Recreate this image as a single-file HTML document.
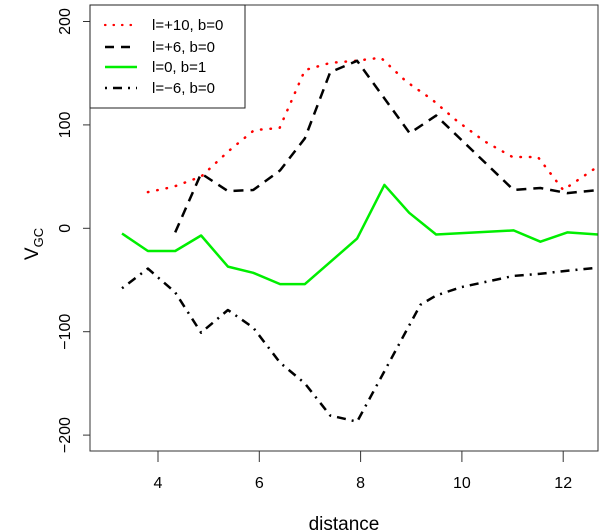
<!DOCTYPE html>
<html><head><meta charset="utf-8"><style>
body{margin:0;background:#fff}
svg{display:block;font-family:"Liberation Sans",sans-serif}
</style></head><body>
<svg id="chart" width="600" height="532" viewBox="0 0 600 532">
<defs><clipPath id="clip"><rect x="90" y="5" width="508" height="446"/></clipPath></defs>
<g id="plot" clip-path="url(#clip)"></g>
<rect x="90" y="5" width="508" height="446" fill="none" stroke="#333" stroke-width="1"/>
<g id="axes"></g>
<text x="344" y="530" font-size="19" text-anchor="middle">distance</text>
<text transform="translate(38,244) rotate(-90)" font-size="19" text-anchor="middle">V<tspan font-size="13" dy="5">GC</tspan></text>
<g>
<rect x="90" y="5" width="155" height="103" fill="#fff" stroke="#222" stroke-width="1"/>
<g><line x1="105" y1="25" x2="137" y2="25" stroke="#f00" stroke-width="2.2" stroke-dasharray="0.5 8" stroke-linecap="round"/><text x="152" y="30" font-size="15">l=+10, b=0</text></g>
<g><line x1="105" y1="47" x2="137" y2="47" stroke="#000" stroke-width="2.5" stroke-dasharray="9 7"/><text x="152" y="52" font-size="15">l=+6, b=0</text></g>
<g><line x1="105" y1="67" x2="137" y2="67" stroke="#00ee00" stroke-width="2.5"/><text x="152" y="72" font-size="15">l=0, b=1</text></g>
<g><line x1="105" y1="88" x2="137" y2="88" stroke="#000" stroke-width="2.5" stroke-dasharray="2 6 9 6"/><text x="152" y="93" font-size="15">l=−6, b=0</text></g>
</g>
</svg>
<script>
const xTicks=[4,6,8,10,12];
const yTicks=[-200,-100,0,100,200];
const redX=[3.8,4.3,4.85,5.4,5.9,6.4,6.9,7.4,7.9,8.4,8.9,9.4,9.9,10.45,11.0,11.5,12.0,12.6];
const redY=[35,40,50,75,95,97,153,160,162,165,142,125,104,84,69,69,37,57];
const blackX=[4.34,4.85,5.38,5.88,6.41,6.9,7.4,7.93,8.97,9.49,11.02,11.55,12.08,12.7];
const blackY=[-4,53,36,37,56,87,151,162,92,109,37,39,34,37];
const greenX=[3.29,3.8,4.34,4.85,5.38,5.88,6.41,6.9,7.93,8.47,8.96,9.49,11.02,11.55,12.08,12.7];
const greenY=[-5,-22,-22,-7,-37,-43,-54,-54,-10,42,15,-6,-2,-13,-4,-6];
const ddX=[3.29,3.8,4.34,4.85,5.38,5.88,6.41,6.9,7.4,7.93,9.18,9.49,9.98,11.02,11.55,12.08,12.7];
const ddY=[-58,-39,-62,-101,-79,-96,-130,-150,-181,-187,-74,-65,-57,-46,-44,-41,-38];
const sx=d=>158+(d-4)*50.65;
const sy=v=>228.3-v*1.034;
const NS='http://www.w3.org/2000/svg';
const plot=document.getElementById('plot'),axes=document.getElementById('axes');
function mk(tag,attrs,parent){const e=document.createElementNS(NS,tag);for(const k in attrs)e.setAttribute(k,attrs[k]);parent.appendChild(e);return e;}
function series(xs,ys,stroke,dash,name,cap){
  const pts=xs.map((x,i)=>sx(x).toFixed(1)+','+sy(ys[i]).toFixed(1)).join(' ');
  const p=mk('polyline',{points:pts,fill:'none',stroke:stroke,'stroke-width':2.5,'stroke-dasharray':dash,'stroke-linecap':cap||'butt','stroke-linejoin':'round'},plot);
  
  
}
series(redX,redY,'#f00','0.5 9','series-l10-b0','round');
series(blackX,blackY,'#000','10 7','series-l6-b0');
series(greenX,greenY,'#00ee00','','series-l0-b1');
series(ddX,ddY,'#000','2 6 9 6','series-lm6-b0');
mk('line',{x1:sx(4),x2:sx(12),y1:451,y2:451,stroke:'#333'},axes);
xTicks.forEach(t=>{
  const l=mk('line',{x1:sx(t),x2:sx(t),y1:451,y2:462,stroke:'#333'},axes);
  
  
  const tx=mk('text',{x:sx(t),y:488,'font-size':16,'text-anchor':'middle'},axes);
  tx.textContent=t;
  
  
});
mk('line',{x1:90,x2:90,y1:sy(-200),y2:sy(200),stroke:'#333'},axes);
yTicks.forEach(t=>{
  const l=mk('line',{x1:83,x2:90,y1:sy(t),y2:sy(t),stroke:'#333'},axes);
  
  
  const tx=mk('text',{x:0,y:0,'font-size':16,'text-anchor':'middle',transform:'translate(70,'+sy(t)+') rotate(-90)'},axes);
  tx.textContent=t<0?'−'+(-t):t;
  
  
});
</script>
</body></html>
